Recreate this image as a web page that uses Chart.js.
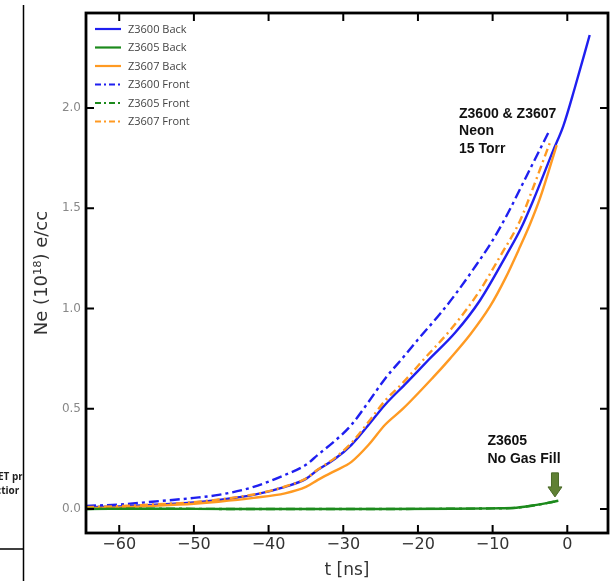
<!DOCTYPE html>
<html>
<head>
<meta charset="utf-8">
<script src="https://cdn.jsdelivr.net/npm/chart.js@4/dist/chart.umd.min.js"></script>
<style>
  html, body { margin: 0; padding: 0; background: #ffffff; }
  #wrap { width: 613px; height: 581px; }
</style>
</head>
<body>
<div id="wrap"><canvas id="c" width="613" height="581"></canvas></div>
<script>
// ---- data ----
const xTickValues = [-60, -50, -40, -30, -20, -10, 0];
const yTickValues = [0.0, 0.5, 1.0, 1.5, 2.0];

const z3600BackT   = [-64.45, -60, -55.6, -50, -46.7, -42, -37.8, -35, -33.4, -31.1, -28.9, -26.6, -24.4, -21.5, -18.6, -15, -11.7, -8.1, -6.2, -4.55, -1.87, -0.54, 1.0, 3.0];
const z3600BackV   = [0.008, 0.013, 0.02, 0.032, 0.045, 0.07, 0.11, 0.15, 0.195, 0.25, 0.32, 0.42, 0.52, 0.63, 0.743, 0.88, 1.04, 1.27, 1.40, 1.54, 1.79, 1.91, 2.1, 2.364];

const z3605BackT   = [-64.45, -55, -45, -35, -25, -15, -10, -6.8, -5.5, -4.1, -2.6, -1.2];
const z3605BackV   = [0.0, 0.001, 0.0, 0.0, 0.0, 0.001, 0.003, 0.006, 0.012, 0.02, 0.03, 0.041];

const z3607BackT   = [-64.45, -60, -55.6, -50, -46.7, -42, -37.8, -35, -33.4, -31.1, -28.9, -26.6, -24.4, -22, -18, -15.7, -13, -10.35, -8.3, -6.3, -5, -3.65, -1.42];
const z3607BackV   = [0.004, 0.008, 0.015, 0.026, 0.036, 0.055, 0.078, 0.11, 0.145, 0.19, 0.235, 0.32, 0.42, 0.5, 0.655, 0.75, 0.87, 1.01, 1.15, 1.31, 1.42, 1.55, 1.815];

const z3600FrontT  = [-64.45, -60, -55.6, -50, -46.7, -42, -37.8, -35, -33.4, -31.1, -28.9, -26.6, -24.4, -22, -20, -17, -15, -12.6, -10, -8.1, -5.4, -2.5];
const z3600FrontV  = [0.015, 0.022, 0.036, 0.055, 0.07, 0.11, 0.17, 0.22, 0.27, 0.34, 0.42, 0.535, 0.65, 0.755, 0.845, 0.975, 1.07, 1.195, 1.34, 1.465, 1.665, 1.88];

const z3605FrontT  = [-64.45, -55, -45, -35, -25, -15, -10, -6.8, -5.5, -4.1, -2.6, -1.2];
const z3605FrontV  = [0.0, 0.001, 0.0, 0.0, 0.0, 0.001, 0.003, 0.006, 0.012, 0.02, 0.03, 0.041];

const z3607FrontT  = [-64.45, -60, -55.6, -50, -46.7, -42, -37.8, -35, -33.4, -31.1, -28.9, -26.6, -24.4, -22, -19.3, -15.5, -11.7, -9, -6.3, -4.6, -3.0, -2.3];
const z3607FrontV  = [0.009, 0.014, 0.022, 0.034, 0.047, 0.072, 0.112, 0.152, 0.197, 0.255, 0.33, 0.435, 0.54, 0.63, 0.743, 0.9, 1.09, 1.26, 1.44, 1.6, 1.76, 1.83];

const seriesLabels = ['Z3600 Back', 'Z3605 Back', 'Z3607 Back', 'Z3600 Front', 'Z3605 Front', 'Z3607 Front'];

// ---- styles ----
const BLUE = '#1f1ff0', GREEN = '#1c8a1c', ORANGE = '#ff9a22';
const toPts = (ts, vs) => ts.map((t, i) => ({ x: t, y: vs[i] }));

const datasets = [
  { label: seriesLabels[4], data: toPts(z3605FrontT, z3605FrontV), borderColor: GREEN, borderDash: [9, 4, 3, 4], legendOrder: 4 },
  { label: seriesLabels[1], data: toPts(z3605BackT, z3605BackV), borderColor: GREEN, borderDash: [], legendOrder: 1 },
  { label: seriesLabels[2], data: toPts(z3607BackT, z3607BackV), borderColor: ORANGE, borderDash: [], legendOrder: 2 },
  { label: seriesLabels[5], data: toPts(z3607FrontT, z3607FrontV), borderColor: ORANGE, borderDash: [8, 4, 2, 4], legendOrder: 5 },
  { label: seriesLabels[0], data: toPts(z3600BackT, z3600BackV), borderColor: BLUE, borderDash: [], legendOrder: 0 },
  { label: seriesLabels[3], data: toPts(z3600FrontT, z3600FrontV), borderColor: BLUE, borderDash: [10, 4, 3, 4], legendOrder: 3 }
].map(d => Object.assign({ borderWidth: 2.4, pointRadius: 0, fill: false, cubicInterpolationMode: 'monotone' }, d));

const framePlugin = {
  id: 'frame',
  afterDraw(chart) {
    const ctx = chart.ctx, a = chart.chartArea;
    const xs = chart.scales.x, ys = chart.scales.y;
    ctx.save();
    // frame
    ctx.strokeStyle = '#000';
    ctx.lineWidth = 2.8;
    ctx.strokeRect(a.left, a.top, a.right - a.left, a.bottom - a.top);
    // inward ticks on all sides
    const L = 8;
    ctx.lineWidth = 2;
    ctx.beginPath();
    xs.ticks.forEach(t => {
      const px = xs.getPixelForValue(t.value);
      ctx.moveTo(px, a.bottom); ctx.lineTo(px, a.bottom - L);
      ctx.moveTo(px, a.top); ctx.lineTo(px, a.top + L);
    });
    ys.ticks.forEach(t => {
      const py = ys.getPixelForValue(t.value);
      ctx.moveTo(a.left, py); ctx.lineTo(a.left + L, py);
      ctx.moveTo(a.right, py); ctx.lineTo(a.right - L, py);
    });
    ctx.stroke();

    // legend inside the plot
    const order = chart.data.datasets.slice().sort((p, q) => p.legendOrder - q.legendOrder);
    ctx.font = '11px "Open Sans"';
    ctx.textBaseline = 'middle';
    ctx.textAlign = 'left';
    order.forEach((d, i) => {
      const y = a.top + 16 + i * 18.5;
      ctx.strokeStyle = d.borderColor;
      ctx.lineWidth = 2.2;
      ctx.setLineDash(d.borderDash.length ? [6, 3, 2, 3] : []);
      ctx.beginPath();
      ctx.moveTo(a.left + 9, y); ctx.lineTo(a.left + 35, y);
      ctx.stroke();
      ctx.setLineDash([]);
      ctx.fillStyle = '#444';
      ctx.fillText(d.label, a.left + 42, y + 0.5);
    });

    // annotations
    ctx.fillStyle = '#111';
    ctx.font = 'bold 14px "Liberation Sans"';
    const ax = xs.getPixelForValue(-14.5), ay = ys.getPixelForValue(1.97);
    ['Z3600 & Z3607', 'Neon', '15 Torr'].forEach((s, i) => ctx.fillText(s, ax, ay + i * 17.5));
    const bx = xs.getPixelForValue(-10.7), by = ys.getPixelForValue(0.336);
    ['Z3605', 'No Gas Fill'].forEach((s, i) => ctx.fillText(s, bx, by + i * 17.5));

    // arrow
    const cx = xs.getPixelForValue(-1.65), top = ys.getPixelForValue(0.18), tip = ys.getPixelForValue(0.06);
    const headTop = tip - 10;
    ctx.fillStyle = '#5f8034';
    ctx.strokeStyle = '#4a6a28';
    ctx.lineWidth = 1;
    ctx.beginPath();
    ctx.moveTo(cx - 3.5, top); ctx.lineTo(cx + 3.5, top); ctx.lineTo(cx + 3.5, headTop);
    ctx.lineTo(cx + 7, headTop); ctx.lineTo(cx, tip); ctx.lineTo(cx - 7, headTop);
    ctx.lineTo(cx - 3.5, headTop); ctx.closePath();
    ctx.fill(); ctx.stroke();

    // cropped neighbouring figure on the left edge
    ctx.strokeStyle = '#000';
    ctx.lineWidth = 1.5;
    ctx.beginPath();
    ctx.moveTo(23.5, 5); ctx.lineTo(23.5, 581);
    ctx.moveTo(0, 549); ctx.lineTo(23, 549);
    ctx.stroke();
    ctx.save();
    ctx.beginPath(); ctx.rect(0, 0, 22.5, 581); ctx.clip();
    ctx.fillStyle = '#222';
    ctx.font = 'bold 10px "Open Sans"';
    ctx.textAlign = 'left';
    ctx.fillText('ET pr', -2, 477);
    ctx.fillText('ctior', -4, 491);
    ctx.restore();
    ctx.restore();
  }
};

new Chart(document.getElementById('c'), {
  type: 'line',
  data: { datasets },
  options: {
    responsive: false,
    animation: false,
    layout: { padding: { left: 0, top: 13, right: 5, bottom: 0 } },
    plugins: { legend: { display: false }, tooltip: { enabled: false } },
    scales: {
      x: {
        type: 'linear',
        min: -64.45, max: 5.45,
        afterBuildTicks: s => { s.ticks = xTickValues.map(v => ({ value: v })); },
        afterFit: s => { s.height = 48; },
        grid: { display: false, drawTicks: false },
        border: { display: false },
        ticks: {
          padding: 2,
          color: '#333',
          font: { family: 'DejaVu Sans', size: 16 },
          maxRotation: 0,
          callback: v => (v < 0 ? '\u2212' + Math.abs(v) : String(v))
        },
        title: {
          display: true, text: 't [ns]', color: '#333',
          font: { family: 'DejaVu Sans', size: 17 },
          padding: { top: 0, bottom: 0 }
        }
      },
      y: {
        type: 'linear',
        min: -0.12, max: 2.474,
        afterBuildTicks: s => { s.ticks = yTickValues.map(v => ({ value: v })); },
        afterFit: s => { s.width = 86; },
        grid: { display: false, drawTicks: false },
        border: { display: false },
        ticks: {
          padding: 5,
          color: '#888',
          font: { family: 'DejaVu Sans', size: 12 },
          callback: v => Number(v).toFixed(1)
        },
        title: {
          display: true, text: 'Ne (10\u00B9\u2078) e/cc', color: '#333',
          font: { family: 'DejaVu Sans', size: 18 },
          padding: { top: 32, bottom: 0 }
        }
      }
    }
  },
  plugins: [framePlugin]
});
</script>
</body>
</html>
